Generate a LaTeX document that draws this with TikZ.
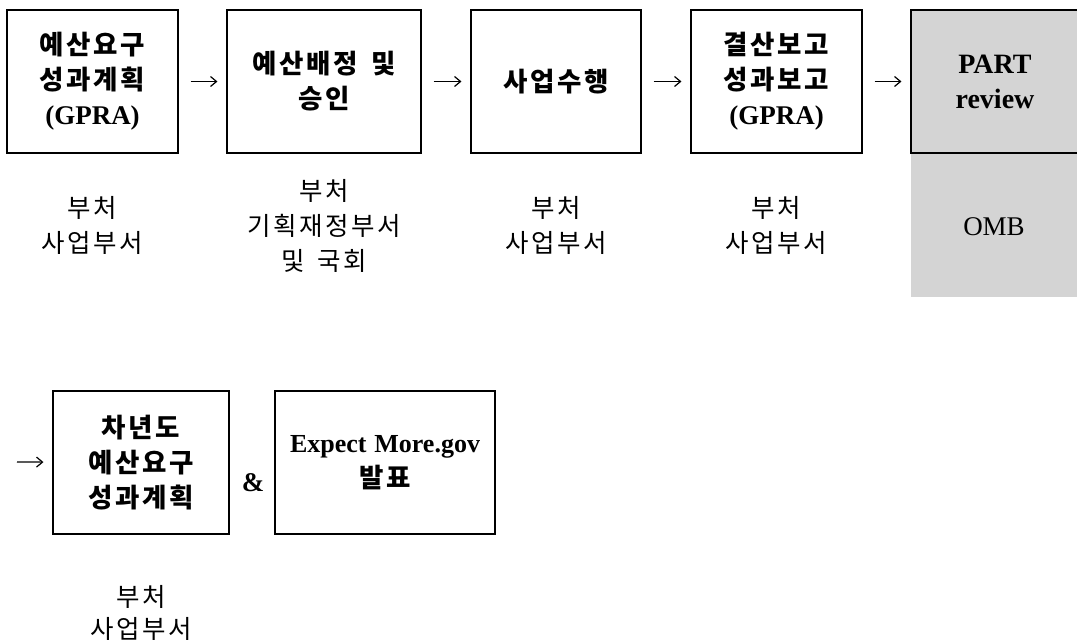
\documentclass[tikz,border=0pt]{standalone}
\usepackage{fontspec}
\setmainfont{Liberation Serif}
\newfontfamily\krfont[LetterSpace=10]{Noto Sans CJK KR}
\usetikzlibrary{arrows.meta}
\definecolor{reviewgray}{RGB}{212,212,212}
\newcommand\latin{\rmfamily\fontsize{27}{35}\selectfont}
\newcommand\hangul{\krfont\fontsize{26.5}{35}\selectfont}
\newcommand\hangulowner{\krfont\fontsize{25.5}{35}\selectfont}
\tikzset{
  stage/.style={draw, line width=1.1pt, inner sep=0pt, align=center,
    minimum height=143pt, font=\bfseries\hangul},
  owner/.style={align=center, inner sep=0pt, font=\hangulowner},
  flow/.style={-{Straight Barb[length=6pt,width=10pt]}, line width=1.2pt,
    shorten <=12pt, shorten >=9pt},
}
\begin{document}
\begin{tikzpicture}[x=1pt,y=-1pt]
\useasboundingbox (0,0) rectangle (1077,640);

% grey band under the review stage
\fill[reviewgray] (911,153) rectangle (1077,297);

% first row of stages
\node[stage, minimum width=171pt] (req) at (92.5,81.5)
  {예산요구\\성과계획\\\latin (GPRA)};
\node[stage, minimum width=194pt] (alloc) at (324,81.5)
  {예산배정\hspace{0.5em}및\\승인};
\node[stage, minimum width=170pt] (exec) at (556,81.5) {사업수행};
\node[stage, minimum width=171pt] (report) at (776.5,81.5)
  {결산보고\\성과보고\\\latin (GPRA)};
\node[stage, minimum width=168pt, fill=reviewgray,
      font=\bfseries\rmfamily\fontsize{28}{35}\selectfont] (part) at (995,81.5)
  {PART\\review};

% who is responsible
\node[owner] (o1) at (92.5,225.5) {부처\\사업부서};
\node[owner] (o2) at (324,226) {부처\\기획재정부서\\및\hspace{0.5em}국회};
\node[owner] (o3) at (556,225.5) {부처\\사업부서};
\node[owner] (o4) at (776.5,225.5) {부처\\사업부서};
\node[inner sep=0pt, font=\latin] (omb) at (994,227) {OMB};

% flow of the first row
\draw[flow] (req) -- (alloc);
\draw[flow] (alloc) -- (exec);
\draw[flow] (exec) -- (report);
\draw[flow] (report) -- (part);

% second row
\coordinate (cont) at (17,462);
\node[stage, minimum width=176pt] (next) at (141,462.5)
  {차년도\\예산요구\\성과계획};
\node[inner sep=0pt, font=\bfseries\latin] (amp) at (253,483) {\&};
\node[stage, minimum width=220pt] (em) at (385,462.5)
  {\rmfamily\fontsize{26}{33}\selectfont Expect\hspace{0.3em}More.gov\\\hangul 발표};
\node[owner, font=\krfont\fontsize{25.5}{32}\selectfont] (o5) at (141,612.5) {부처\\사업부서};

\draw[flow, shorten <=0pt] (cont) -- (next);
\end{tikzpicture}
\end{document}
